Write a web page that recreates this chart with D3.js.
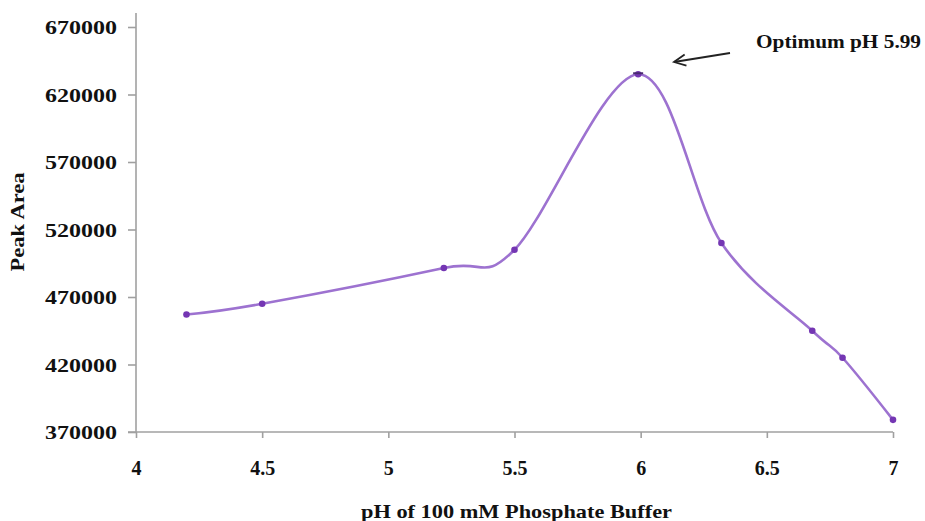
<!DOCTYPE html>
<html>
<head>
<meta charset="utf-8">
<script src="https://cdn.jsdelivr.net/npm/d3@7"></script>
<style>
  html, body { margin: 0; padding: 0; background: #fff; }
  svg { display: block; }
  text { font-family: "Liberation Serif", "Times New Roman", serif; font-weight: bold; fill: #111; }
</style>
</head>
<body>
<svg id="chart" width="925" height="521"></svg>
<script>
// pH of the phosphate buffer and the measured peak area
const phValues = [4.2, 4.5, 5.22, 5.5, 5.99, 6.32, 6.68, 6.8, 7.0];
const peakAreas = [457000, 465000, 491500, 505000, 635000, 510000, 445000, 425000, 379000];

const xTicks = [4, 4.5, 5, 5.5, 6, 6.5, 7];
const yTicks = [370000, 420000, 470000, 520000, 570000, 620000, 670000];

const xTitle = "pH of 100 mM Phosphate Buffer";
const yTitle = "Peak Area";
const noteText = "Optimum pH 5.99";
const optimumPh = 5.99;
const optimumArea = 635000;

const svg = d3.select("#chart");

const x = d3.scaleLinear().domain([4, 7]).range([136, 893]);
const y = d3.scaleLinear().domain([370000, 670000]).range([432, 27]);

const axisColor = "#a0a0a0";
const fontFam = "Liberation Serif, Times New Roman, serif";

// y axis
const gy = svg.append("g")
  .attr("transform", `translate(${x(4)},0)`)
  .call(d3.axisLeft(y).tickValues(yTicks).tickFormat(d3.format("d")).tickSize(8).tickSizeOuter(0));
gy.select(".domain").remove();
gy.append("line").attr("x1", 0).attr("x2", 0).attr("y1", 13).attr("y2", y(370000))
  .attr("stroke", axisColor).attr("stroke-width", 1.6);
gy.selectAll(".tick line").attr("stroke", axisColor).attr("stroke-width", 1.6);
gy.selectAll(".tick text")
  .attr("x", -19).attr("dy", "0.35em")
  .attr("textLength", 72).attr("lengthAdjust", "spacingAndGlyphs")
  .style("font-size", "19px").style("font-family", fontFam)
  .style("font-weight", "bold").attr("fill", "#111");

// x axis
const gx = svg.append("g")
  .attr("transform", `translate(0,${y(370000)})`)
  .call(d3.axisBottom(x).tickValues(xTicks).tickFormat(d => String(d)).tickSize(6).tickSizeOuter(0));
gx.select(".domain").remove();
gx.append("line").attr("x1", x(4) - 8).attr("x2", x(7)).attr("y1", 0).attr("y2", 0)
  .attr("stroke", axisColor).attr("stroke-width", 1.6);
gx.selectAll(".tick line").attr("stroke", axisColor).attr("stroke-width", 1.6);
gx.selectAll(".tick text")
  .attr("y", 29).attr("dy", "0.71em")
  .style("font-size", "20px").style("font-family", fontFam)
  .style("font-weight", "bold").attr("fill", "#111");

// axis titles
svg.append("text")
  .attr("x", 361).attr("y", 518)
  .attr("textLength", 311).attr("lengthAdjust", "spacingAndGlyphs")
  .style("font-size", "19px")
  .text(xTitle);

svg.append("text")
  .attr("transform", `translate(24,222) rotate(-90)`)
  .attr("text-anchor", "middle")
  .attr("textLength", 99).attr("lengthAdjust", "spacingAndGlyphs")
  .style("font-size", "19px")
  .text(yTitle);

// smoothed data line
const pts = phValues.map((v, i) => [v, peakAreas[i]]);
const line = d3.line()
  .x(d => x(d[0]))
  .y(d => y(d[1]))
  .curve(d3.curveCardinal.tension(0));

svg.append("path")
  .datum(pts)
  .attr("fill", "none")
  .attr("stroke", "#9d72d0")
  .attr("stroke-width", 2.6)
  .attr("d", line);

svg.selectAll("circle.pt")
  .data(pts)
  .enter().append("circle")
  .attr("class", "pt")
  .attr("cx", d => x(d[0]))
  .attr("cy", d => y(d[1]))
  .attr("r", 3.3)
  .attr("fill", "#7436b3");

// optimum marker dash
svg.append("line")
  .attr("x1", x(optimumPh) - 5).attr("x2", x(optimumPh) + 5)
  .attr("y1", y(optimumArea) - 1).attr("y2", y(optimumArea) - 1)
  .attr("stroke", "#4a2a70").attr("stroke-width", 2);

// annotation arrow and label
const ax0 = 730, ay0 = 53, ax1 = 674, ay1 = 62;
svg.append("line")
  .attr("x1", ax0).attr("y1", ay0).attr("x2", ax1).attr("y2", ay1)
  .attr("stroke", "#222").attr("stroke-width", 1.8);
const ang = Math.atan2(ay0 - ay1, ax0 - ax1);
const hl = 13, spread = 0.45;
svg.append("path")
  .attr("d", `M${ax1 + hl * Math.cos(ang + spread)},${ay1 + hl * Math.sin(ang + spread)} L${ax1},${ay1} L${ax1 + hl * Math.cos(ang - spread)},${ay1 + hl * Math.sin(ang - spread)}`)
  .attr("fill", "none").attr("stroke", "#222").attr("stroke-width", 1.8);

svg.append("text")
  .attr("x", 756).attr("y", 48)
  .attr("textLength", 165).attr("lengthAdjust", "spacingAndGlyphs")
  .style("font-size", "19px")
  .text(noteText);
</script>
</body>
</html>
